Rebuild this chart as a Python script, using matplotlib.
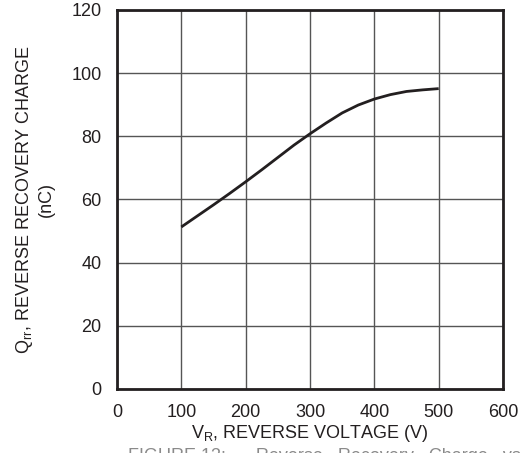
import matplotlib.pyplot as plt
import numpy as np

plt.rcParams['font.family'] = ['Liberation Sans', 'DejaVu Sans']

# reverse voltage (V) vs reverse recovery charge (nC)
v_r = [100, 125, 150, 175, 200, 225, 250, 275, 300, 325, 350, 375, 400, 425, 450, 475, 500]
q_rr = [51.3, 54.8, 58.3, 61.9, 65.6, 69.4, 73.3, 77.2, 80.8, 84.2, 87.4, 89.9, 91.8, 93.2, 94.2, 94.7, 95.1]

x_ticks = [0, 100, 200, 300, 400, 500, 600]
y_ticks = [0, 20, 40, 60, 80, 100, 120]

fig = plt.figure(figsize=(5.23, 4.53), dpi=100)
ax = fig.add_axes([0.2237, 0.1413, 0.7381, 0.8367])

ax.plot(v_r, q_rr, color='#231f20', lw=2.0, solid_capstyle='butt')

ax.set_xlim(0, 600)
ax.set_ylim(0, 120)
ax.set_xticks(x_ticks)
ax.set_yticks(y_ticks)
ax.grid(True, color='#555555', lw=1.0)
ax.tick_params(length=0, labelsize=13, colors='#231f20')
ax.tick_params(axis='x', pad=11)
ax.tick_params(axis='y', pad=11)
for s in ax.spines.values():
    s.set_linewidth(2.0)
    s.set_color('#231f20')

ax.set_xlabel("V$_\\mathregular{R}$, REVERSE VOLTAGE (V)", fontsize=13,
              color='#231f20', labelpad=1)
ax.set_ylabel("Q$_\\mathregular{rr}$, REVERSE RECOVERY CHARGE\n(nC)",
              fontsize=13, color='#231f20', labelpad=12, linespacing=1.25)

# figure caption, cut off by the bottom edge as in the source
fig.text(128, 453 - 448, "FIGURE 13:      Reverse   Recovery   Charge   vs.   V",
         transform=None, fontsize=13, color='#8a8a8a', va='top')

fig.savefig('out.png', dpi=100)
